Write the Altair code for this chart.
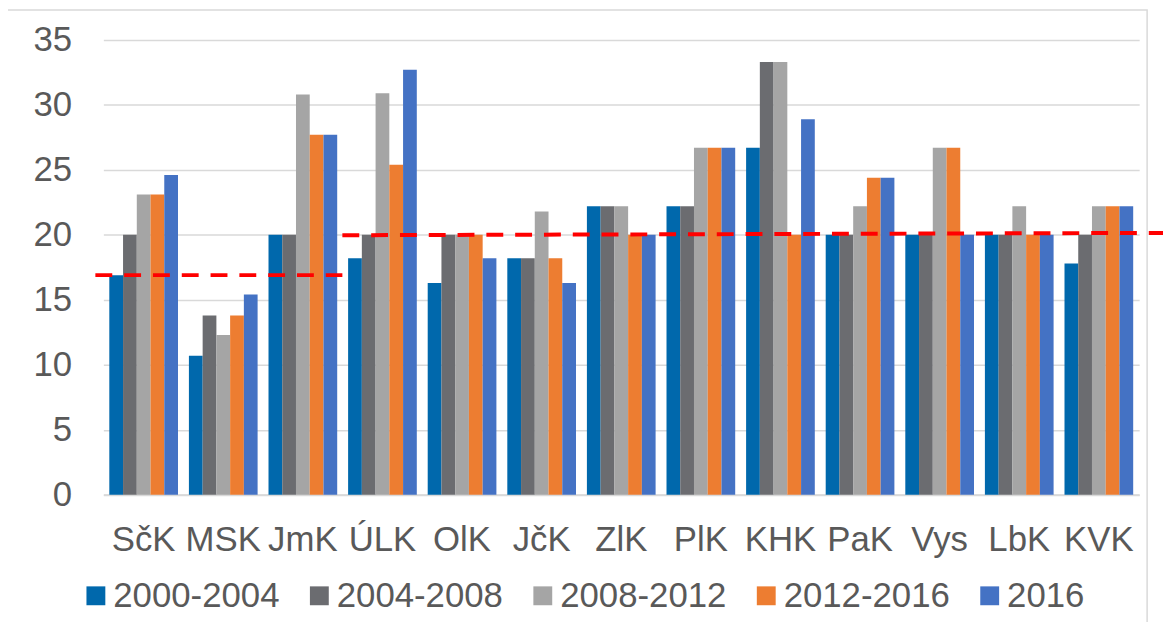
import altair as alt
import pandas as pd

regions = ["SčK", "MSK", "JmK", "ÚLK", "OlK", "JčK", "ZlK", "PlK", "KHK", "PaK", "Vys", "LbK", "KVK"]
periods = ["2000-2004", "2004-2008", "2008-2012", "2012-2016", "2016"]
v_2000_2004 = [16.9, 10.7, 20.0, 18.2, 16.3, 18.2, 22.2, 22.2, 26.7, 20.0, 20.0, 20.0, 17.8]
v_2004_2008 = [20.0, 13.8, 20.0, 20.0, 20.0, 18.2, 22.2, 22.2, 33.3, 20.0, 20.0, 20.0, 20.0]
v_2008_2012 = [23.1, 12.3, 30.8, 30.9, 20.0, 21.8, 22.2, 26.7, 33.3, 22.2, 26.7, 22.2, 22.2]
v_2012_2016 = [23.1, 13.8, 27.7, 25.4, 20.0, 18.2, 20.0, 26.7, 20.0, 24.4, 26.7, 20.0, 22.2]
v_2016 = [24.6, 15.4, 27.7, 32.7, 18.2, 16.3, 20.0, 26.7, 28.9, 24.4, 20.0, 20.0, 22.2]
colors = ["#0068AC", "#6B6C70", "#A5A5A5", "#ED7D31", "#4472C4"]

# average reference lines (in category-index units along x)
avg_x_start = [-0.1, 3.0]
avg_x_end = [3.0, 13.3]
avg_y_start = [16.9, 19.97]
avg_y_end = [16.9, 20.15]

series = [v_2000_2004, v_2004_2008, v_2008_2012, v_2012_2016, v_2016]
rows = []
for p, vals in zip(periods, series):
    for r, v in zip(regions, vals):
        rows.append({"region": r, "period": p, "value": v})
df = pd.DataFrame(rows)
avg_df = pd.DataFrame({"x": avg_x_start, "x2": avg_x_end, "y": avg_y_start, "y2": avg_y_end})

FONT = "Liberation Sans"
TXT = "#595959"

yscale = alt.Scale(domain=[0, 35], nice=False)

bars = alt.Chart(df).mark_bar().encode(
    x=alt.X("region:N", sort=regions,
            scale=alt.Scale(paddingInner=0.137, paddingOuter=0.075),
            axis=alt.Axis(title=None, labelAngle=0, ticks=False, domain=True,
                          domainColor="#D9D9D9", domainWidth=2, labelPadding=28,
                          labelFontSize=35, labelFont=FONT, labelColor=TXT, grid=False)),
    xOffset=alt.XOffset("period:N", sort=periods,
                        scale=alt.Scale(paddingInner=0, paddingOuter=0)),
    y=alt.Y("value:Q", scale=yscale,
            axis=alt.Axis(title=None, values=[0, 5, 10, 15, 20, 25, 30, 35], grid=True,
                          gridColor="#D9D9D9", gridWidth=1.5, domain=False, ticks=False,
                          labelPadding=32, labelFontSize=35, labelFont=FONT, labelColor=TXT)),
    color=alt.Color("period:N", sort=periods,
                    scale=alt.Scale(domain=periods, range=colors),
                    legend=alt.Legend(title=None, orient="none", legendX=-25, legendY=542,
                                      direction="horizontal", symbolType="square",
                                      symbolSize=361, symbolStrokeWidth=0, labelFontSize=35,
                                      labelFont=FONT, labelColor=TXT, labelOffset=0,
                                      labelLimit=0, columnPadding=22, padding=0,
                                      symbolOffset=0)),
)

lines = alt.Chart(avg_df).mark_rule(color="#FF0000", strokeWidth=4, strokeDash=[17, 12]).encode(
    x=alt.X("x:Q", scale=alt.Scale(domain=[0, 13], nice=False, zero=False), axis=None),
    x2="x2:Q",
    y=alt.Y("y:Q", scale=yscale),
    y2="y2:Q",
)

frame = alt.Chart(pd.DataFrame({"k": [0]})).mark_rect(
    fillOpacity=0, stroke="#D9D9D9", strokeWidth=1.5
).encode(
    x=alt.value(-97), x2=alt.value(1051), y=alt.value(-30), y2=alt.value(620)
)

chart = alt.layer(frame, bars, lines).resolve_scale(x="independent").properties(
    width=1043, height=458,
    autosize=alt.AutoSizeParams(type="none"),
    padding={"left": 96, "top": 30, "right": 24, "bottom": 126},
    background="white",
).configure_view(strokeWidth=0)

chart.save("out.html", embed_options={"renderer": "svg", "actions": False})
